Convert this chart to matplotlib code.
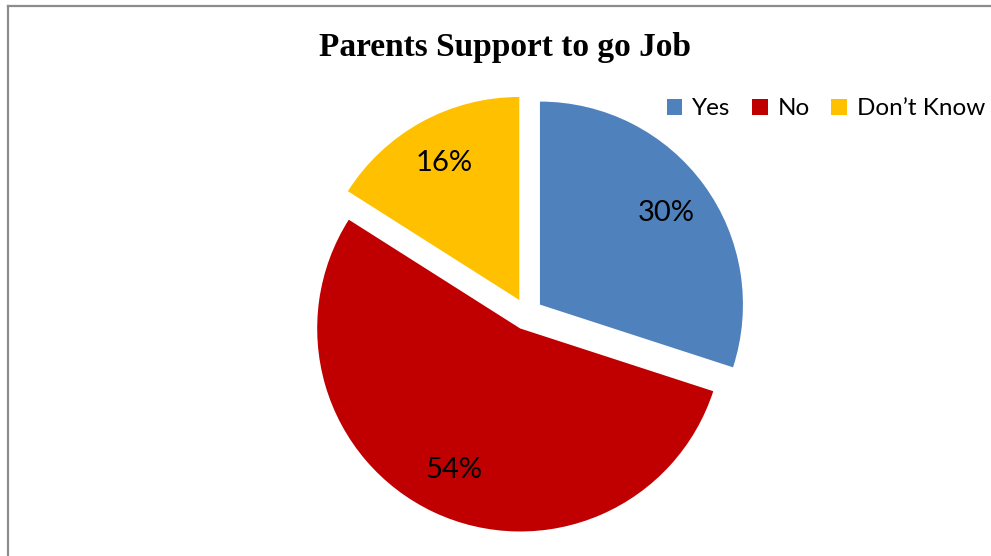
import matplotlib
matplotlib.use("Agg")
import matplotlib.pyplot as plt
from matplotlib.lines import Line2D

labels = ["Yes", "No", "Don\u2019t Know"]
shares = [30, 54, 16]
colors = ["#4F81BD", "#C00000", "#FFC000"]

W, H = 991, 556
fig = plt.figure(figsize=(W / 100, H / 100), dpi=100)
ax = fig.add_axes([0, 0, 1, 1])

# explode is in data units here (pixels), radius too
wedges, texts, autotexts = ax.pie(
    shares,
    colors=colors,
    startangle=90,
    counterclock=False,
    explode=[16] * len(shares),
    center=(527, H - 314),
    radius=203,
    autopct="%d%%",
    pctdistance=0.77,
    textprops=dict(family="Lato", fontsize=21, color="black"),
    wedgeprops=dict(linewidth=0),
    frame=True,
)
ax.set_xlim(0, W)
ax.set_ylim(0, H)
ax.set_aspect("equal")
ax.axis("off")

fig.text(505 / W, 1 - 56 / H, "Parents Support to go Job", ha="center", va="baseline",
         family="Liberation Serif", fontweight="bold", fontsize=24)

fig.legend(wedges, labels, loc="upper right", bbox_to_anchor=(1.006, 1 - 86 / H), ncol=3,
           frameon=False, prop=dict(family="Lato", size=17.5), handlelength=0.65,
           handleheight=0.65, handletextpad=0.4, columnspacing=0.88, borderpad=0)

# partial gray border (left and top edges)
fig.add_artist(Line2D([8 / W, 1], [1 - 6 / H, 1 - 6 / H], color="#8c8c8c", lw=1.6))
fig.add_artist(Line2D([8 / W, 8 / W], [0, 1 - 6 / H], color="#8c8c8c", lw=1.6))

fig.savefig("out.png", dpi=100)
